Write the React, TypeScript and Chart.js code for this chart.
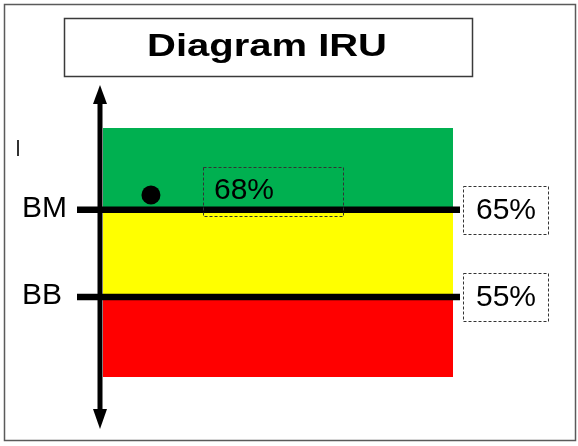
import React, { useEffect, useRef } from "react";
import { Chart, registerables } from "chart.js";

Chart.register(...registerables);

const categories = ["IRU"];
const titleText = "Diagram IRU";
const bandRanges: [number, number][] = [
  [45.8, 55],
  [55, 65],
  [65, 74.4],
];
const bandColors = ["#FF0000", "#FFFF00", "#00B050"];
const thresholdValues = [65, 55];
const thresholdNames = ["BM", "BB"];
const thresholdTickLabels = ["65%", "55%"];
const currentLabel = "68%";
const currentPointX = [13.7];
const currentPointY = [66.7];
const yMin = 45.8;
const yMax = 74.4;

const FONT = "'Liberation Sans', Arial, sans-serif";

const decorPlugin = {
  id: "decor",
  afterDatasetsDraw(chart: any) {
    const ctx = chart.ctx as CanvasRenderingContext2D;
    const area = chart.chartArea;
    const ys = chart.scales.y;
    const x2 = chart.scales.x2;
    ctx.save();

    // outer border
    ctx.strokeStyle = "#5a5a5a";
    ctx.lineWidth = 1.5;
    ctx.strokeRect(4.5, 4.5, 571, 436);

    // title box + text
    ctx.strokeStyle = "#3a3a3a";
    ctx.lineWidth = 1.5;
    ctx.strokeRect(64.5, 18.5, 408, 58);
    ctx.fillStyle = "#000";
    ctx.font = `bold 32px ${FONT}`;
    ctx.textAlign = "center";
    ctx.textBaseline = "alphabetic";
    const tw = ctx.measureText(titleText).width;
    ctx.save();
    ctx.translate(267, 56);
    ctx.scale(240 / tw, 1);
    ctx.fillText(titleText, 0, 0);
    ctx.restore();

    // small mark
    ctx.fillStyle = "#333";
    ctx.fillRect(17, 140, 2, 16);

    // vertical axis with arrows
    const ax = area.left - 3;
    ctx.fillStyle = "#000";
    ctx.fillRect(ax - 2.5, 100, 5, 312);
    ctx.beginPath();
    ctx.moveTo(ax, 85);
    ctx.lineTo(ax + 7, 104);
    ctx.lineTo(ax - 7, 104);
    ctx.closePath();
    ctx.fill();
    ctx.beginPath();
    ctx.moveTo(ax, 429);
    ctx.lineTo(ax + 7, 409);
    ctx.lineTo(ax - 7, 409);
    ctx.closePath();
    ctx.fill();

    // threshold lines, names and value boxes
    thresholdValues.forEach((v, i) => {
      const y = ys.getPixelForValue(v);
      ctx.strokeStyle = "#000";
      ctx.lineWidth = 6.5;
      ctx.setLineDash([]);
      ctx.beginPath();
      ctx.moveTo(77, y);
      ctx.lineTo(area.right + 7, y);
      ctx.stroke();

      ctx.fillStyle = "#000";
      ctx.font = `30px ${FONT}`;
      ctx.textAlign = "left";
      ctx.textBaseline = "middle";
      ctx.fillText(thresholdNames[i], 22, y - 1);

      ctx.strokeStyle = "#333";
      ctx.lineWidth = 1;
      ctx.setLineDash([3, 2]);
      ctx.strokeRect(463.5, Math.round(y - 24) + 0.5, 85, 48);
      ctx.setLineDash([]);
      ctx.textAlign = "center";
      ctx.fillStyle = "#000";
      ctx.fillText(thresholdTickLabels[i], 506, y + 1);
    });

    // current value label box
    const px = x2.getPixelForValue(currentPointX[0]);
    const py = ys.getPixelForValue(currentPointY[0]);
    ctx.strokeStyle = "#333";
    ctx.lineWidth = 1;
    ctx.setLineDash([3, 2]);
    ctx.strokeRect(Math.round(px + 52) + 0.5, Math.round(py - 28) + 0.5, 140, 49);
    ctx.setLineDash([]);
    ctx.fillStyle = "#000";
    ctx.font = `30px ${FONT}`;
    ctx.textAlign = "left";
    ctx.textBaseline = "middle";
    ctx.fillText(currentLabel, px + 63, py - 4);

    ctx.restore();
  },
};

export default function App() {
  const ref = useRef<HTMLCanvasElement | null>(null);
  useEffect(() => {
    document.body.style.margin = "0";
    const canvas = ref.current;
    if (!canvas) return;
    const chart = new Chart(canvas, {
      type: "bar",
      data: {
        labels: categories,
        datasets: [
          ...bandRanges.map((r, i) => ({
            type: "bar" as const,
            data: [r] as any,
            backgroundColor: bandColors[i],
            borderWidth: 0,
            borderSkipped: false,
            barPercentage: 1,
            categoryPercentage: 1,
            grouped: false,
            order: 2,
          })),
          {
            type: "scatter" as const,
            xAxisID: "x2",
            data: currentPointX.map((x, i) => ({ x, y: currentPointY[i] })) as any,
            backgroundColor: "#000",
            borderColor: "#000",
            pointRadius: 9.5,
            borderWidth: 0,
            order: 1,
          },
        ],
      },
      options: {
        responsive: false,
        animation: false,
        events: [],
        layout: { padding: { left: 103, right: 125, top: 128, bottom: 69 } },
        plugins: { legend: { display: false }, tooltip: { enabled: false }, title: { display: false } },
        scales: {
          x: { display: false, type: "category" },
          x2: { display: false, type: "linear", min: 0, max: 100, offset: false },
          y: { display: false, min: yMin, max: yMax },
        },
      },
      plugins: [decorPlugin],
    });
    return () => chart.destroy();
  }, []);
  return (
    <div style={{ width: 578, height: 446, background: "#fff" }}>
      <canvas ref={ref} width={578} height={446} style={{ display: "block", width: 578, height: 446 }} />
    </div>
  );
}
